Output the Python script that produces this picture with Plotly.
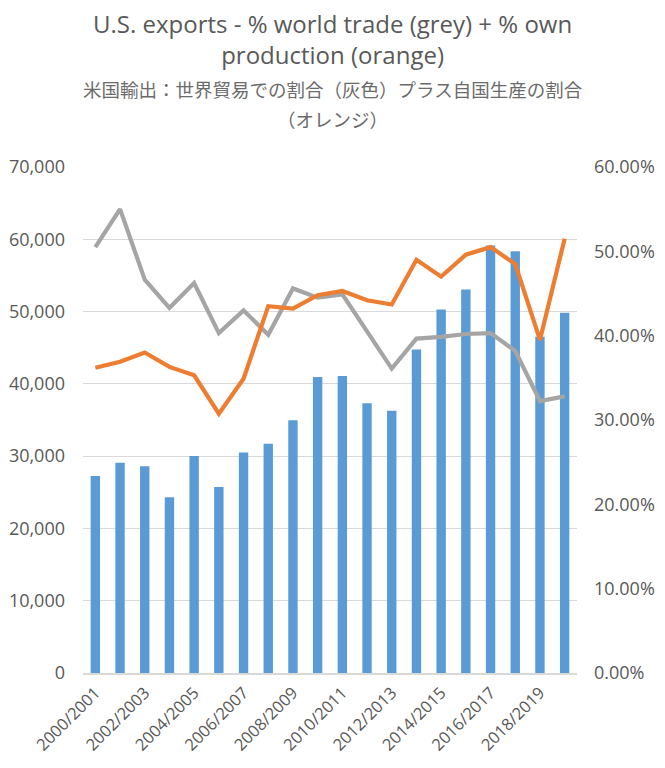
import plotly.graph_objects as go

categories = [f"{y}/{y+1}" for y in range(2000, 2020)]
exports = [27250, 29100, 28590, 24300, 30010, 25730, 30520, 31730, 34950, 40940,
           41100, 37300, 36290, 44770, 50300, 53070, 59150, 58330, 46500, 49850]
pct_world_trade = [0.505, 0.550, 0.4665, 0.433, 0.4625, 0.403, 0.430, 0.401, 0.456, 0.445,
                   0.449, 0.405, 0.361, 0.3965, 0.3985, 0.402, 0.403, 0.382, 0.3225, 0.328]
pct_own_production = [0.362, 0.369, 0.380, 0.363, 0.353, 0.3075, 0.349, 0.435, 0.432, 0.448,
                      0.453, 0.442, 0.437, 0.490, 0.470, 0.496, 0.505, 0.485, 0.395, 0.515]
tick_labels = categories[::2]

title_lines = ["U.S. exports - % world trade (grey) + % own", "production (orange)"]
subtitle_lines = ["米国輸出：世界貿易での割合（灰色）プラス自国生産の割合", "（オレンジ）"]

TXT = "#595959"
GRID = "#D9D9D9"
LAT = "Open Sans, Liberation Sans, sans-serif"
CJK = "Noto Sans CJK JP, sans-serif"

fig = go.Figure()
fig.add_trace(go.Bar(x=categories, y=exports, marker=dict(color="#5B9BD5", line=dict(width=0)),
                     name="Exports", yaxis="y"))
fig.add_trace(go.Scatter(x=categories, y=pct_world_trade, mode="lines",
                         line=dict(color="#A5A5A5", width=4.2), name="% world trade", yaxis="y2"))
fig.add_trace(go.Scatter(x=categories, y=pct_own_production, mode="lines",
                         line=dict(color="#ED7D31", width=4.2), name="% own production", yaxis="y2"))

# page has an 8px body margin; compensate
OFF = 8
W, HT = 665 - OFF, 768 - OFF
L, T = 83 - OFF, 167 - OFF
R = W - (577 - OFF)
B = HT - (673 - OFF)
H = HT - T - B

def py(ypix):
    return 1 + (T - (ypix - OFF)) / H

annots = [dict(text="<br>".join(title_lines), x=0.5, xref="paper", xanchor="center",
               y=py(39), yref="paper", yanchor="middle", showarrow=False, align="center",
               font=dict(family=LAT, size=24, color=TXT))]
for txt, yp in zip(subtitle_lines, [89, 119]):
    annots.append(dict(text=txt, x=0.5, xref="paper", xanchor="center", y=py(yp), yref="paper",
                       yanchor="middle", showarrow=False, font=dict(family=CJK, size=18.5, color="#6b6b6b")))
page_center = (665 / 2 - OFF - L) / (W - L - R)
for a in annots:
    a["x"] = page_center

fig.update_layout(
    width=W, height=HT,
    margin=dict(l=L, r=R, t=T, b=B, autoexpand=False),
    paper_bgcolor="white", plot_bgcolor="white",
    showlegend=False,
    bargap=0.62,
    annotations=annots,
    xaxis=dict(type="category", tickmode="array", tickvals=tick_labels, ticktext=tick_labels,
               tickangle=-45, tickfont=dict(family=LAT, size=16.5, color=TXT),
               showline=True, linecolor=GRID, linewidth=1.5, showgrid=False, ticks="",
               ticklabelstandoff=2, automargin=False),
    yaxis=dict(range=[0, 70000], dtick=10000, tickformat=",", showgrid=True, gridcolor=GRID,
               gridwidth=1, zeroline=False, tickfont=dict(family=LAT, size=18, color=TXT),
               ticklabelstandoff=17, automargin=False),
    yaxis2=dict(range=[0, 0.6], dtick=0.1, tickformat=".2%", overlaying="y", side="right",
                showgrid=False, zeroline=False, tickfont=dict(family=LAT, size=18, color=TXT),
                ticklabelstandoff=16, automargin=False),
)

fig.write_html("out.html")
